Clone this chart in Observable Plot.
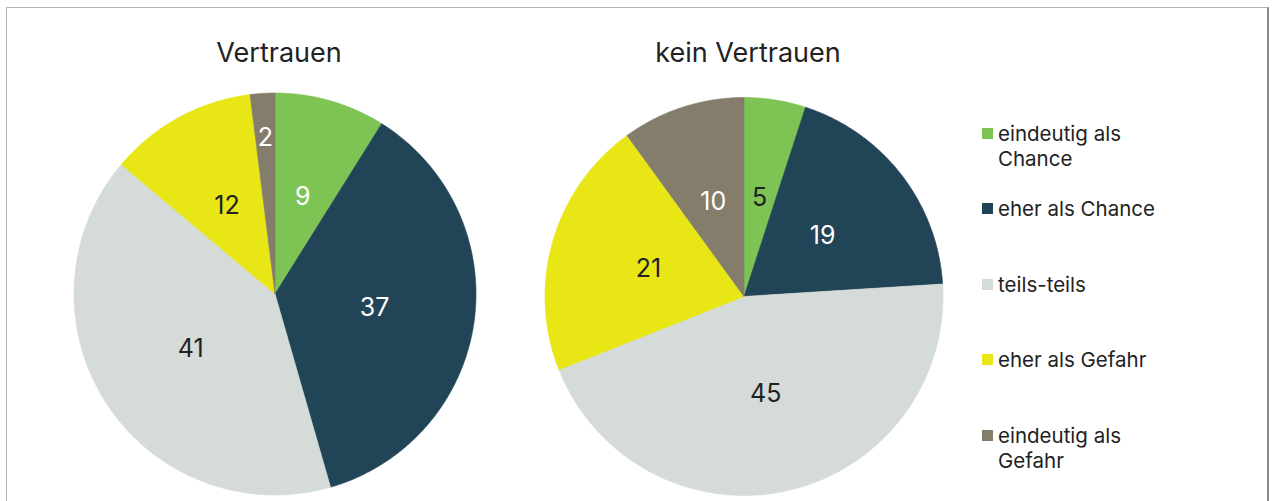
<!DOCTYPE html>
<html><head><meta charset="utf-8">
<script src="https://cdn.jsdelivr.net/npm/d3@7"></script>
<script src="https://cdn.jsdelivr.net/npm/@observablehq/plot@0.6"></script>
<style>
body{margin:0;background:#fff;font-family:Inter,"Liberation Sans",sans-serif;}
#wrap{position:relative;width:1275px;height:501px;overflow:hidden;}
#frame{position:absolute;left:6px;top:7px;width:1263px;height:530px;border:1.5px solid #b4b4b4;border-right:2px solid #8a8a8a;box-sizing:border-box;}
#chart{position:absolute;left:0;top:0;}
#legend{position:absolute;left:982px;top:120.5px;}
.item{display:flex;align-items:flex-start;height:75.5px;}
.sw{width:11px;height:11px;margin-top:7px;margin-right:5px;flex:none}
.lab{font-size:20.5px;line-height:25px;color:#222;width:190px;white-space:nowrap}
</style></head><body>
<div id="wrap"><div id="frame"></div><div id="chart"></div><div id="legend"></div></div>
<script>
// ---- data ----
const groups = ["Vertrauen", "kein Vertrauen"];
const categories = ["eindeutig als Chance", "eher als Chance", "teils-teils", "eher als Gefahr", "eindeutig als Gefahr"];
const legendLabels = ["eindeutig als<br>Chance", "eher als Chance", "teils-teils", "eher als Gefahr", "eindeutig als<br>Gefahr"];
const valuesVertrauen = [9, 37, 41, 12, 2];
const valuesKeinVertrauen = [5, 19, 45, 21, 10];

// ---- styles ----
const colors = ["#7dc455", "#224457", "#d5dbd8", "#e8e615", "#857d6c"];
const labelColorsVertrauen = ["#ffffff", "#ffffff", "#222222", "#222222", "#ffffff"];
const labelColorsKein = ["#222222", "#ffffff", "#222222", "#222222", "#ffffff"];
const layout = {
  "Vertrauen": {r: 1.005, cy: 0},
  "kein Vertrauen": {r: 0.995, cy: -0.0125}
};

const valueSets = {"Vertrauen": valuesVertrauen, "kein Vertrauen": valuesKeinVertrauen};
const labelColorSets = {"Vertrauen": labelColorsVertrauen, "kein Vertrauen": labelColorsKein};

const slicePts = [];
const labels = [];
for (const g of groups) {
  const vals = valueSets[g];
  const {r, cy} = layout[g];
  const arcs = d3.pie().sort(null).value(d => d)(vals);
  arcs.forEach((a, i) => {
    const id = g + "|" + i;
    slicePts.push({g, id, cat: categories[i], x: 0, y: cy});
    const n = Math.max(2, Math.ceil((a.endAngle - a.startAngle) / 0.01));
    for (let k = 0; k <= n; k++) {
      const t = a.startAngle + (a.endAngle - a.startAngle) * k / n;
      slicePts.push({g, id, cat: categories[i], x: r * Math.sin(t), y: cy + r * Math.cos(t)});
    }
    slicePts.push({g, id, cat: categories[i], x: 0, y: cy});
    const mid = (a.startAngle + a.endAngle) / 2;
    const share = (a.endAngle - a.startAngle) / (2 * Math.PI);
    const lr = share < 0.03 ? 0.78 * r : 0.5 * r;
    labels.push({g, text: String(vals[i]), x: lr * Math.sin(mid), y: cy + lr * Math.cos(mid), color: labelColorSets[g][i]});
  });
}

const chart = Plot.plot({
  width: 978, height: 501,
  marginLeft: 40, marginRight: 0, marginTop: 0, marginBottom: 0,
  style: {fontFamily: 'Inter, "Liberation Sans", sans-serif', background: "transparent"},
  fx: {domain: groups, padding: 0, axis: null},
  x: {domain: [-1.1725, 1.1725], axis: null},
  y: {domain: [-1.0375, 1.4675], axis: null},
  color: {domain: categories, range: colors},
  marks: [
    Plot.line(slicePts, {fx: "g", x: "x", y: "y", z: "id", fill: "cat", stroke: "cat", strokeWidth: 0.6, curve: "linear"}),
    Plot.text(labels, {fx: "g", x: "x", y: "y", text: "text", fill: d => d.color, fontSize: 25}),
    Plot.text(groups, {fx: d => d, x: () => 0, y: () => 1.2025, text: d => d, fontSize: 27, fill: "#222", dx: 4})
  ]
});
document.getElementById("chart").appendChild(chart);

const leg = document.getElementById("legend");
categories.forEach((c, i) => {
  const it = document.createElement("div");
  it.className = "item";
  it.innerHTML = `<div class="sw" style="background:${colors[i]}"></div><div class="lab">${legendLabels[i]}</div>`;
  leg.appendChild(it);
});
</script>
</body></html>
